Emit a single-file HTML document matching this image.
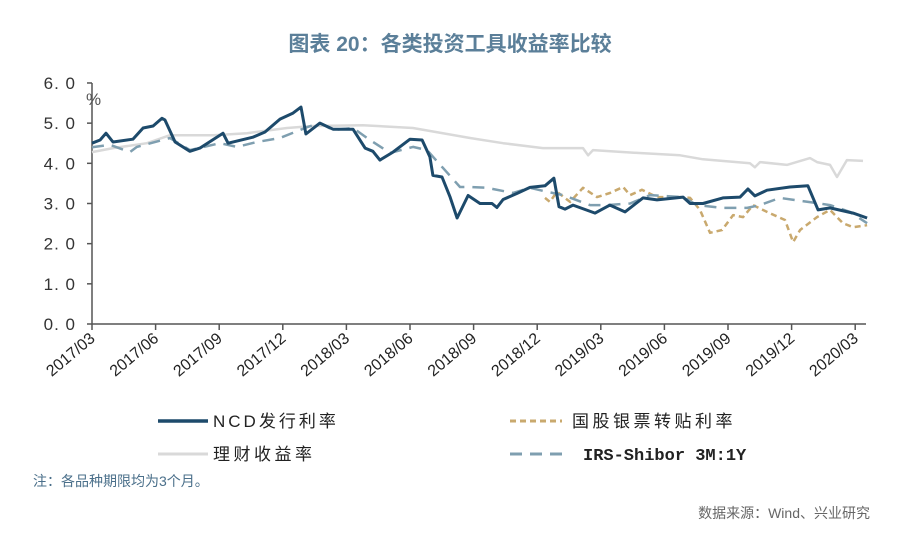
<!DOCTYPE html>
<html><head><meta charset="utf-8"><style>
body{margin:0;background:#fff;}
svg text{font-family:"Liberation Sans","Noto Sans CJK SC",sans-serif;}
svg text.mono{font-family:"Liberation Mono","Noto Sans CJK SC",monospace;}
</style></head><body>
<svg width="900" height="532" viewBox="0 0 900 532">
<text x="450" y="51" text-anchor="middle" font-size="21" fill="#5b7f99" font-weight="bold">图表 20：各类投资工具收益率比较</text>
<g id="axes"></g>
<g id="series"></g>
<g>
<line x1="158" y1="421" x2="208" y2="421" stroke="#1d4a6b" stroke-width="3.5"/>
<text x="213" y="427" font-size="17" letter-spacing="3" fill="#222">NCD发行利率</text>
<line x1="510" y1="421" x2="562" y2="421" stroke="#c9a96e" stroke-width="3" stroke-dasharray="6,4"/>
<text x="572" y="427" font-size="17" letter-spacing="3.5" fill="#222">国股银票转贴利率</text>
<line x1="158" y1="454" x2="208" y2="454" stroke="#d9d9d9" stroke-width="3"/>
<text x="213" y="460" font-size="17" letter-spacing="3.5" fill="#222">理财收益率</text>
<line x1="510" y1="454" x2="562" y2="454" stroke="#7f9fb0" stroke-width="3" stroke-dasharray="12,8"/>
<text x="583" y="460" font-size="17" class="mono" font-weight="bold" fill="#222">IRS-Shibor 3M:1Y</text>
</g>
<text x="33" y="486" font-size="14" fill="#4a6f8a">注：各品种期限均为3个月。</text>
<text x="870" y="518" text-anchor="end" font-size="14" fill="#666">数据来源：Wind、兴业研究</text>
</svg>
<script>
const xTickLabels=["2017/03","2017/06","2017/09","2017/12","2018/03","2018/06","2018/09","2018/12","2019/03","2019/06","2019/09","2019/12","2020/03"];
const yTicks=[0,1,2,3,4,5,6];
const ncdX=[0,.38,.66,.99,1.93,2.41,2.88,3.3,3.44,3.92,4.62,5.09,6.18,6.42,7.59,8.16,8.87,9.48,9.86,10.09,10.75,11.37,12.31,12.88,13.25,13.58,14.2,15,15.57,15.94,16.08,16.51,16.89,17.22,17.74,18.3,18.87,19.1,19.39,20.05,20.66,21.37,21.79,22.03,22.31,22.69,23.73,24.43,25.14,25.99,26.65,27.88,28.21,28.82,29.76,30.57,30.94,31.27,31.84,32.92,33.77,34.25,34.81,35.9,36.56];
const ncdY=[4.5,4.58,4.75,4.53,4.6,4.88,4.93,5.12,5.08,4.53,4.3,4.38,4.75,4.5,4.65,4.78,5.1,5.25,5.4,4.73,5.0,4.85,4.85,4.38,4.3,4.08,4.28,4.6,4.58,4.16,3.7,3.66,3.16,2.64,3.2,3.0,3.0,2.9,3.1,3.25,3.4,3.44,3.63,2.92,2.86,2.96,2.76,2.96,2.79,3.14,3.09,3.16,3.0,3.0,3.14,3.16,3.36,3.19,3.33,3.41,3.44,2.84,2.89,2.76,2.64];
const billX=[21.37,21.6,21.93,22.55,23.16,23.82,24.43,25.05,25.38,25.94,26.65,27.74,28.21,28.68,29.15,29.72,30.24,30.71,31.18,31.84,32.69,33.07,33.4,34.2,34.81,35.42,35.9,36.56];
const billY=[3.14,3.04,3.29,3.04,3.39,3.16,3.26,3.41,3.21,3.34,3.16,3.16,3.14,2.84,2.27,2.34,2.71,2.66,2.96,2.79,2.59,2.04,2.34,2.66,2.84,2.51,2.41,2.46];
const irsX=[0,.85,1.79,2.12,3.68,4.62,6.04,6.84,7.78,8.87,10.14,10.75,11.37,12.31,13.11,14.06,15.14,15.8,16.56,17.36,17.83,18.63,19.86,20.66,21.46,22.22,23.49,24.29,25.38,26.32,27.88,28.54,29.76,30.9,31.51,32.45,34.2,34.81,35.75,36.56];
const irsY=[4.4,4.46,4.28,4.41,4.63,4.33,4.5,4.41,4.53,4.63,4.9,5.0,4.83,4.88,4.58,4.26,4.41,4.33,3.88,3.41,3.41,3.39,3.26,3.39,3.29,3.21,2.96,2.96,3.0,3.21,3.16,2.96,2.89,2.89,2.96,3.14,3.01,2.96,2.79,2.51];
const wealthX=[0,.99,2.59,3.68,5.71,7.31,9.2,10.42,12.78,15.14,17.83,19.39,21.27,23.16,23.4,23.63,25.71,27.74,28.82,31.04,31.27,31.51,32.78,33.87,34.2,34.81,35.14,35.61,36.37];
const wealthY=[4.28,4.38,4.5,4.7,4.7,4.75,4.88,4.93,4.95,4.88,4.63,4.5,4.38,4.38,4.2,4.33,4.26,4.2,4.1,4.0,3.9,4.03,3.96,4.13,4.03,3.96,3.66,4.08,4.06];
const NS="http://www.w3.org/2000/svg";
const x0=92,pxPerMonth=21.2,yBase=324,pxPerUnit=40.17,xEnd=866;
const sx=m=>x0+m*pxPerMonth, sy=v=>yBase-v*pxPerUnit;
function mk(tag,attrs,parent){const e=document.createElementNS(NS,tag);for(const k in attrs)e.setAttribute(k,attrs[k]);parent.appendChild(e);return e;}
const axes=document.getElementById('axes'), series=document.getElementById('series');
let e=mk('line',{x1:x0,y1:sy(6),x2:x0,y2:yBase,stroke:'#555','stroke-width':1.5},axes);


e=mk('line',{x1:x0,y1:yBase,x2:xEnd,y2:yBase,stroke:'#555','stroke-width':1.5},axes);


yTicks.forEach(v=>{
 const t=mk('line',{x1:x0-5,y1:sy(v),x2:x0,y2:sy(v),stroke:'#555','stroke-width':1.5},axes);
 
 
 const l=mk('text',{x:x0-16,y:sy(v)+6,'text-anchor':'end','font-size':17,fill:'#333','letter-spacing':'1'},axes);
 l.textContent=v.toFixed(1).replace('.','. ');
 
 
});
e=mk('text',{x:86,y:105,'font-size':17,fill:'#555'},axes);e.textContent='%';


xTickLabels.forEach((s,i)=>{
 const x=sx(i*3);
 const t=mk('line',{x1:x,y1:yBase,x2:x,y2:yBase+6,stroke:'#555','stroke-width':1.5},axes);
 
 
 const l=mk('text',{x:x+4,y:yBase+16,'text-anchor':'end','font-size':16,fill:'#222',transform:`rotate(-40 ${x+4} ${yBase+16})`},axes);
 l.textContent=s;
 
 
});
function line(xs,ys,style,name){
 const d=xs.map((m,i)=>(i?'L':'M')+sx(m).toFixed(1)+' '+sy(ys[i]).toFixed(1)).join(' ');
 const p=mk('path',Object.assign({d:d,fill:'none','stroke-linejoin':'round'},style),series);
 
 
}
line(wealthX,wealthY,{stroke:'#d9d9d9','stroke-width':2.5},'wealth-yield-line');
line(billX,billY,{stroke:'#c9a96e','stroke-width':2.5,'stroke-dasharray':'6,4'},'bill-discount-line');
line(irsX,irsY,{stroke:'#7f9fb0','stroke-width':2.5,'stroke-dasharray':'12,8'},'irs-shibor-line');
line(ncdX,ncdY,{stroke:'#1d4a6b','stroke-width':3},'ncd-rate-line');
</script>
</body></html>
